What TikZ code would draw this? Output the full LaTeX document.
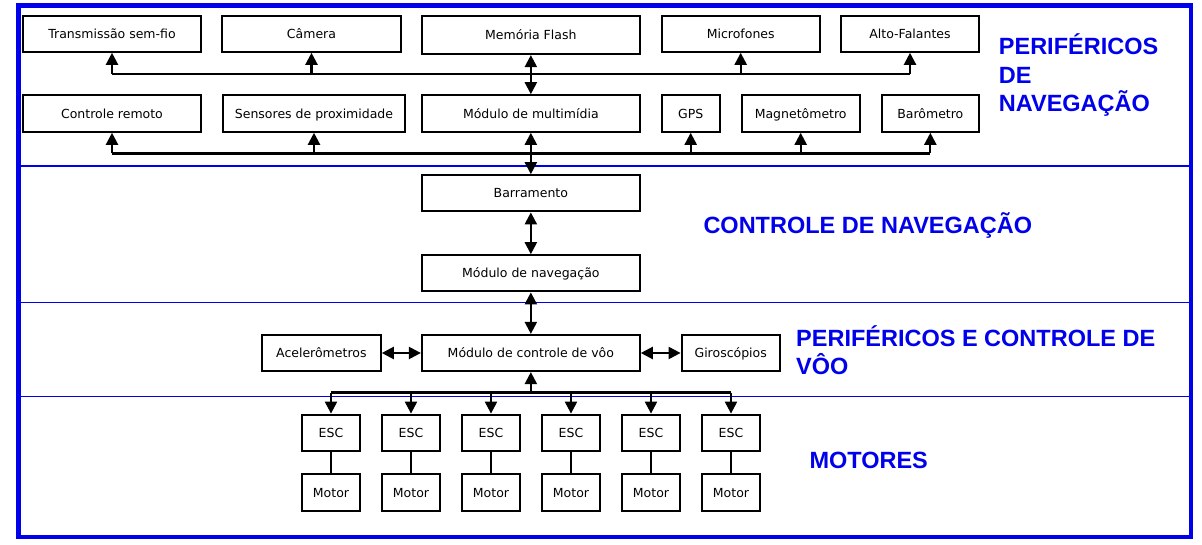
\documentclass[tikz,border=0pt]{standalone}
\usepackage{fontspec}
\newfontfamily\dvs{DejaVu Sans}
\newfontfamily\lsans{Liberation Sans}
\usetikzlibrary{arrows.meta,calc}
\definecolor{bl}{RGB}{0,0,235}
\tikzset{
  blk/.style={draw=black, line width=2.2pt, inner sep=0pt, text height=9.1pt, text depth=0pt, font=\dvs\fontsize{12.5}{14}\selectfont},
  arr/.style={-{Triangle[width=12pt,length=12pt]}, line width=2.2pt},
  darr/.style={{Triangle[width=12pt,length=12pt]}-{Triangle[width=12pt,length=12pt]}, line width=2.2pt},
  wire/.style={line width=2.2pt},
  sep/.style={draw=bl, line width=1.2pt},
  lab/.style={anchor=base west, inner sep=0pt, text=bl, font=\lsans\bfseries\fontsize{23.5}{28}\selectfont}
}
\newcommand\bx[6]{\node[blk, minimum width={(#4)-(#2)-2}, minimum height={(#5)-(#3)-2}] (#1) at ({((#2)+(#4))/2},{((#3)+(#5))/2}) {#6};}
\begin{document}
\begin{tikzpicture}[x=1pt,y=-1pt]
\useasboundingbox (0,0) rectangle (1202,545);
% frame and separators
\draw[draw=bl, line width=4.5pt] (18.5,5.3) rectangle (1191,537);
\draw[sep] (18.5,166) -- (1191,166);
\draw[sep] (18.5,302.3) -- (1191,302.3);
\draw[sep] (18.5,396.3) -- (1191,396.3);
% top row
\bx{t1}{22}{14.7}{202}{52.7}{Transmissão sem-fio}
\bx{t2}{221}{14.7}{402}{52.7}{Câmera}
\bx{mf}{421}{14.7}{640.7}{55}{Memória Flash}
\bx{t4}{660.7}{14.7}{820.7}{52.7}{Microfones}
\bx{t5}{840}{14.7}{980}{52.7}{Alto-Falantes}
% second row
\bx{r1}{22}{94.3}{202}{132.7}{Controle remoto}
\bx{r2}{222}{94.3}{406}{132.7}{Sensores de proximidade}
\bx{mm}{421}{94.3}{640.7}{132.7}{Módulo de multimídia}
\bx{r4}{660.7}{94.3}{720.7}{132.7}{GPS}
\bx{r5}{740.7}{94.3}{860.7}{132.7}{Magnetômetro}
\bx{r6}{880.7}{94.3}{980}{132.7}{Barômetro}
% middle
\bx{barr}{421}{174.3}{640.7}{212.3}{Barramento}
\bx{nav}{421}{254.3}{640.7}{292.3}{Módulo de navegação}
\bx{voo}{421}{334}{640.7}{372}{Módulo de controle de vôo}
\bx{acc}{261}{334}{381.7}{372}{Acelerômetros}
\bx{gir}{680.7}{334}{780.7}{372}{Giroscópios}
% ESC and motors
\foreach \i/\cx in {1/331,2/411,3/491,4/571,5/651,6/731}{
  \bx{esc\i}{\cx-30}{413.7}{\cx+30}{452}{ESC}
  \bx{mot\i}{\cx-30}{473.3}{\cx+30}{511.7}{Motor}
  \draw[wire] (esc\i.south) -- (mot\i.north);
}
% bus coordinates
\coordinate (bus1) at (531,74);
\coordinate (bus2) at (531,153.5);
\coordinate (bus3) at (531,392.5);
% top bus
\draw[wire] (t1.south |- bus1) -- (t5.south |- bus1);
\foreach \n in {t1,t2,t4,t5}{ \draw[arr] (\n.south |- bus1) -- (\n.south); }
\draw[darr] (mf.south) -- (mm.north);
% second bus
\draw[wire] (r1.south |- bus2) -- (r6.south |- bus2);
\foreach \n in {r1,r2,r4,r5,r6}{ \draw[arr] (\n.south |- bus2) -- (\n.south); }
\draw[darr] (mm.south) -- (barr.north);
% middle
\draw[darr] (barr.south) -- (nav.north);
\draw[darr] (nav.south) -- (voo.north);
\draw[darr] (acc.east) -- (voo.west);
\draw[darr] (voo.east) -- (gir.west);
% bottom bus
\draw[wire] (esc1.north |- bus3) -- (esc6.north |- bus3);
\draw[arr] (voo.south |- bus3) -- (voo.south);
\foreach \i in {1,...,6}{ \draw[arr] (esc\i.north |- bus3) -- (esc\i.north); }
% labels
\node[lab] (l1a) at (998.7,55) {PERIFÉRICOS};
\node[lab] (l1b) at (998.7,83.3) {DE};
\node[lab] (l1c) at (998.7,111.7) {NAVEGAÇÃO};
\node[lab] (l2) at (703.3,233.3) {CONTROLE DE NAVEGAÇÃO};
\node[lab] (l3a) at (796,346) {PERIFÉRICOS E CONTROLE DE};
\node[lab] (l3b) at (796,374.3) {VÔO};
\node[lab] (l4) at (809.3,468.3) {MOTORES};
\end{tikzpicture}
\end{document}
